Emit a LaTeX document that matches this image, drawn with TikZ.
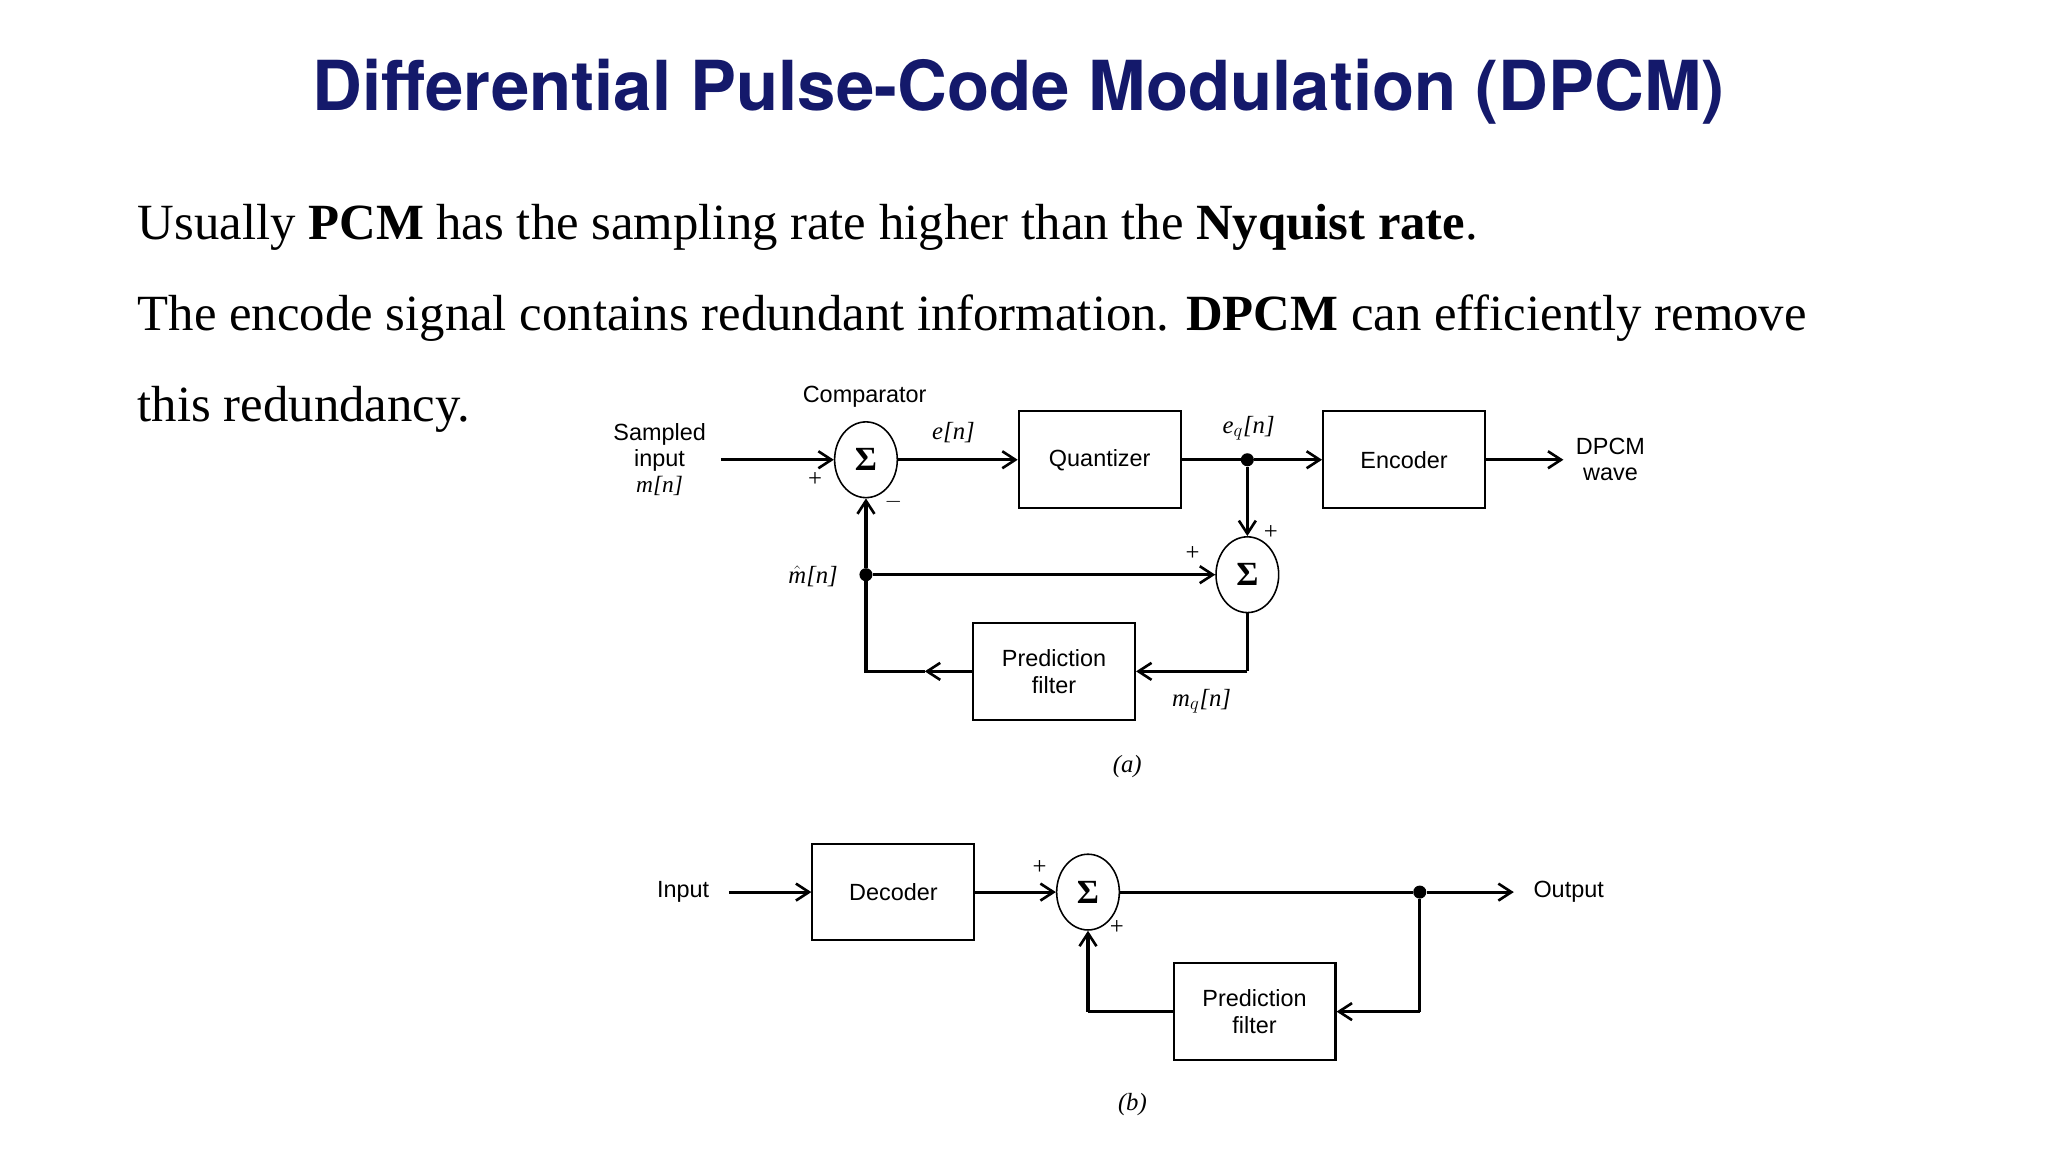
\documentclass[tikz,border=0pt]{standalone}
\usepackage{fontspec}
\setmainfont{Liberation Serif}
\setsansfont{Liberation Sans}
\newfontfamily\titlefont{TeX Gyre Heros}
\usetikzlibrary{arrows.meta,shapes.geometric}
\definecolor{navy}{rgb}{0.08,0.1,0.42}
\begin{document}
\begin{tikzpicture}[x=1bp,y=-1bp,
  blk/.style={draw,line width=1.6bp,minimum width=124bp,minimum height=74bp,font=\sffamily\fontsize{18}{21}\selectfont,align=center,inner sep=0},
  sm/.style={draw,ellipse,line width=1.2bp,minimum width=48bp,minimum height=58bp,inner sep=0,font=\bfseries\fontsize{26}{26}\selectfont},
  ln/.style={line width=2.4bp},
  ar/.style={ln,-{Straight Barb[length=10bp,width=13bp,line width=2bp]}},
  lab/.style={font=\fontsize{19}{20}\selectfont,align=center},
  slab/.style={font=\sffamily\fontsize{18}{20}\selectfont,align=center},
  dotn/.style={circle,fill,inner sep=0,minimum size=10bp}]
\useasboundingbox (0,0) rectangle (1568,882);
\node[font=\titlefont\bfseries\fontsize{53}{58}\selectfont,text=navy] (title) at (780,70) {Differential Pulse-Code Modulation (DPCM)};
\node[anchor=base west,font=\fontsize{39}{44}\selectfont] (l1) at (102,183) {Usually \textbf{PCM} has the sampling rate higher than the \textbf{Nyquist rate}.};
\node[anchor=base west,font=\fontsize{39}{44}\selectfont] (l2) at (102,253) {The encode signal contains redundant information. \textbf{DPCM} can efficiently remove};
\node[anchor=base west,font=\fontsize{39}{44}\selectfont] (l3) at (102,323) {this redundancy.};
% diagram a
\node[sm] (s1) at (663,352) {Σ};
\node[blk] (q) at (842,352) {Quantizer};
\node[blk] (enc) at (1075,352) {Encoder};
\node[sm] (s2) at (955,440) {Σ};
\node[blk] (pf) at (807,514) {Prediction\\filter};
\node[slab] (samp) at (505,352) {Sampled\\input\\\rmfamily\itshape m[n]};
\coordinate (inA) at (552,352);
\node[slab] (dp) at (1233,352) {DPCM\\wave};
\coordinate (outA) at (1197,352);
\node[dotn] (d1) at (955,352) {};
\node[dotn] (d2) at (663,440) {};
\coordinate (c1) at (955,514);
\coordinate (c2) at (708,514);
\coordinate (c3) at (663,514);
\draw[ar] (inA) -- (s1.west);
\draw[ar] (s1.east) -- (q.west);
\draw[ln] (q.east) -- (d1);
\draw[ar] (d1) -- (enc.west);
\draw[ar] (enc.east) -- (outA);
\draw[ar] (d1) -- (s2.north);
\draw[ar] (d2) -- (s2.west);
\draw[ln] (s2.south) -- (c1);
\draw[ar] (c1) -- (pf.east);
\draw[ar] (pf.west) -- (c2);
\draw[ln] (c2) -- (c3) -- (d2);
\draw[ar] (d2) -- (s1.south);
\node[slab] (comp) at (662,304) {Comparator};
\node[lab] (en) at (730,331) {\itshape e[n]};
\node[lab] (eq) at (956,328) {\itshape e$_q$[n]};
\node[lab] (p1) at (624,367) {+};
\node[lab] (m1) at (684,384) {$-$};
\node[lab] (p2) at (973,408) {+};
\node[lab] (p3) at (913,424) {+};
\node[lab,anchor=east] (mh) at (645,441) {$\hat{\textit{m}}$\itshape[n]};
\node[lab] (mq) at (920,537) {\itshape m$_q$[n]};
\node[lab] (la) at (863,587) {\itshape(a)};
% diagram b
\node[slab] (inp) at (523,683) {Input};
\coordinate (inB) at (558,683);
\node[blk] (dec) at (684,683) {Decoder};
\node[sm] (s3) at (833,683) {Σ};
\node[dotn] (d3) at (1087,683) {};
\coordinate (outB) at (1159,683);
\node[slab] (outp) at (1201,683) {Output};
\node[blk] (pf2) at (960.5,774.5) {Prediction\\filter};
\coordinate (c4) at (1087,774.5);
\coordinate (c5) at (833,774.5);
\draw[ar] (inB) -- (dec.west);
\draw[ar] (dec.east) -- (s3.west);
\draw[ln] (s3.east) -- (d3);
\draw[ar] (d3) -- (outB);
\draw[ln] (d3) -- (c4);
\draw[ar] (c4) -- (pf2.east);
\draw[ln] (pf2.west) -- (c5);
\draw[ar] (c5) -- (s3.south);
\node[lab] (p4) at (796,664) {+};
\node[lab] (p5) at (855,710) {+};
\node[lab] (lb) at (867,846) {\itshape(b)};
\end{tikzpicture}
\end{document}
